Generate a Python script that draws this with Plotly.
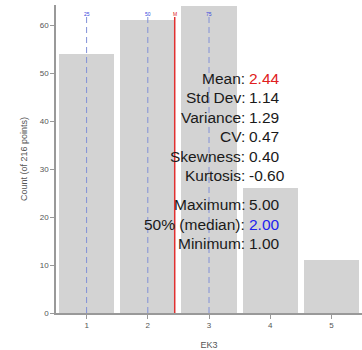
import numpy as np
import plotly.graph_objects as go

# Histogram of EK3 responses (216 points)
categories = [1, 2, 3, 4, 5]
counts = [54, 61, 64, 26, 11]
quantile_values = [1, 2, 3]
quantile_labels = ["25", "50", "75"]
x_tick_labels = ["1", "2", "3", "4", "5"]
y_tick_values = [0, 10, 20, 30, 40, 50, 60]

vals = np.repeat(categories, counts)
n = len(vals)
mean = vals.mean()
var = vals.var()
sd = np.sqrt(var)
cv = sd / mean
skew = ((vals - mean) ** 3).mean() / var ** 1.5
kurt = ((vals - mean) ** 4).mean() / var ** 2 - 3
median = np.median(vals)

W, H = 362, 350
L, R, T, B = 56, 0, 5, 37
PW, PH = W - L - R, H - T - B


def px_x(p):
    return (p - L) / PW


def px_y(p):
    return (H - B - p) / PH


fig = go.Figure()
fig.add_trace(go.Bar(
    x=categories, y=counts, width=0.9,
    marker=dict(color="#d3d3d3", line=dict(width=0)),
    hoverinfo="x+y",
))

shapes = []
annotations = []
line_top = px_y(17)
for qv, ql in zip(quantile_values, quantile_labels):
    shapes.append(dict(type="line", xref="x", yref="paper", x0=qv, x1=qv,
                       y0=0, y1=line_top,
                       line=dict(color="#8090d8", width=1, dash="6px,4px")))
    annotations.append(dict(xref="x", yref="paper", x=qv, y=px_y(9), text=ql,
                            showarrow=False, font=dict(size=5, color="#3344dd",
                                                       family="Liberation Sans")))
shapes.append(dict(type="line", xref="x", yref="paper", x0=mean, x1=mean,
                   y0=0, y1=line_top, line=dict(color="#e03030", width=1.5)))
annotations.append(dict(xref="x", yref="paper", x=mean, y=px_y(9), text="M",
                        showarrow=False, font=dict(size=5, color="#e02020",
                                                   family="Liberation Sans")))

stats = [
    ("Mean:", f"{mean:.2f}", "#e02020", 78),
    ("Std Dev:", f"{sd:.2f}", "#1a1a1a", 97.5),
    ("Variance:", f"{var:.2f}", "#1a1a1a", 117),
    ("CV:", f"{cv:.2f}", "#1a1a1a", 136.5),
    ("Skewness:", f"{skew:.2f}", "#1a1a1a", 156),
    ("Kurtosis:", f"{kurt:.2f}", "#1a1a1a", 175.5),
    ("Maximum:", f"{vals.max():.2f}", "#1a1a1a", 204.5),
    ("50% (median):", f"{median:.2f}", "#2222ee", 224),
    ("Minimum:", f"{vals.min():.2f}", "#1a1a1a", 243.5),
]
sfont = "Liberation Sans"
for lab, val, col, ypx in stats:
    annotations.append(dict(xref="paper", yref="paper", x=px_x(245), y=px_y(ypx),
                            text=lab, showarrow=False, xanchor="right",
                            yanchor="middle", borderpad=0, borderwidth=0,
                            font=dict(size=15.5, color="#1a1a1a", family=sfont)))
    annotations.append(dict(xref="paper", yref="paper", x=px_x(249), y=px_y(ypx),
                            text=val, showarrow=False, xanchor="left",
                            yanchor="middle", borderpad=0, borderwidth=0,
                            font=dict(size=15.5, color=col, family=sfont)))

axis_common = dict(showline=True, linecolor="#999999", linewidth=1.5,
                   ticks="outside", ticklen=4, tickcolor="#999999",
                   showgrid=False, zeroline=False,
                   tickfont=dict(size=8, color="#555555", family="Liberation Sans"))

fig.update_layout(
    width=W, height=H,
    margin=dict(l=L, r=R, t=T, b=B),
    paper_bgcolor="white", plot_bgcolor="white",
    showlegend=False, bargap=0,
    shapes=shapes, annotations=annotations,
    xaxis=dict(range=[0.5, 5.5], tickvals=categories, ticktext=x_tick_labels,
               title=dict(text="EK3", standoff=12,
                          font=dict(size=9, color="#555555", family="Liberation Sans")),
               **axis_common),
    yaxis=dict(range=[0, PH / 4.8], tickvals=y_tick_values,
               title=dict(text="Count (of 216 points)", standoff=11,
                          font=dict(size=9, color="#555555", family="Liberation Sans")),
               **axis_common),
)

fig.write_html("out.html")
